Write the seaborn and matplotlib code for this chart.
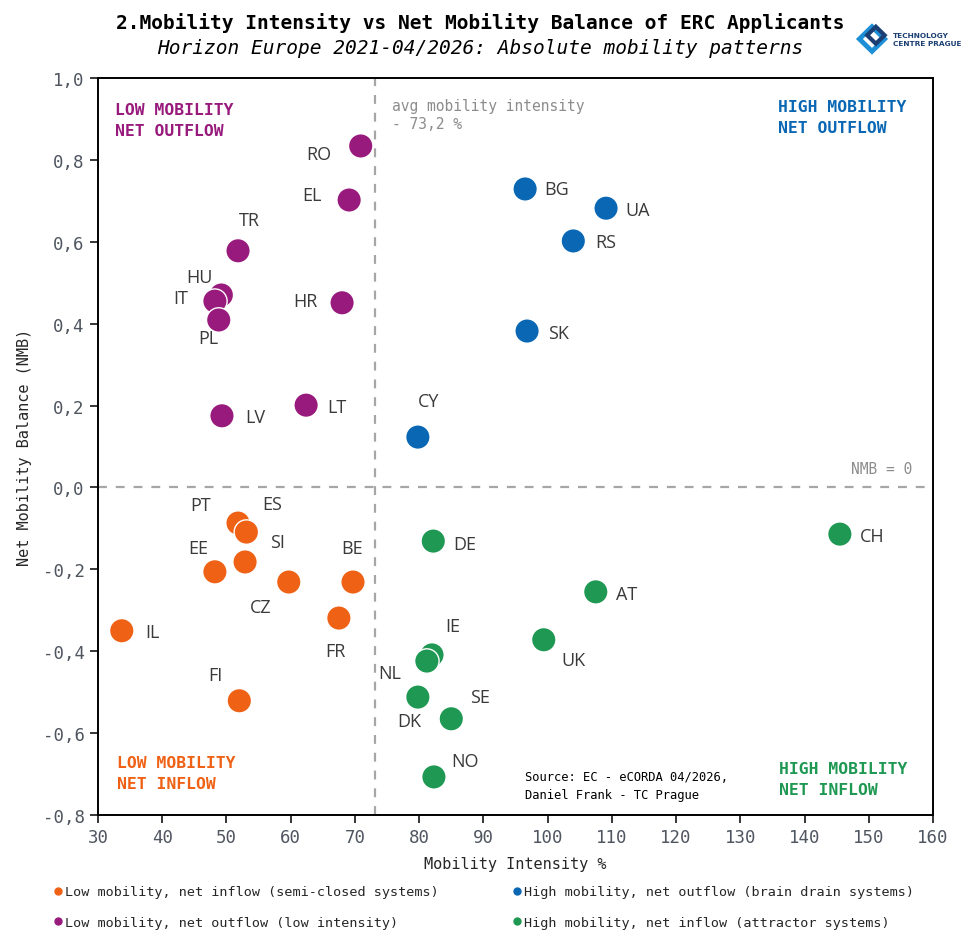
import pandas as pd
import matplotlib.pyplot as plt
import matplotlib.lines as mlines
import matplotlib.patches as mpatches
import seaborn as sns

sns.set_style("ticks")
plt.rcParams["font.family"] = ["DejaVu Sans Mono"]

# data
low_out_codes = ["RO", "EL", "TR", "HU", "IT", "PL", "HR", "LT", "LV"]
low_out_x = [70.9, 69.1, 51.8, 49.2, 48.2, 48.8, 68.0, 62.4, 49.3]
low_out_y = [0.834, 0.702, 0.578, 0.470, 0.455, 0.409, 0.451, 0.201, 0.175]

high_out_codes = ["BG", "UA", "RS", "SK", "CY"]
high_out_x = [96.5, 109.1, 104.0, 96.8, 79.8]
high_out_y = [0.729, 0.682, 0.602, 0.382, 0.123]

low_in_codes = ["PT", "ES", "SI", "EE", "CZ", "BE", "FR", "IL", "FI"]
low_in_x = [51.8, 53.1, 52.9, 48.2, 59.7, 69.7, 67.5, 33.7, 52.0]
low_in_y = [-0.087, -0.109, -0.182, -0.206, -0.231, -0.231, -0.319, -0.350, -0.521]

high_in_codes = ["CH", "DE", "AT", "UK", "IE", "NL", "DK", "SE", "NO"]
high_in_x = [145.5, 82.2, 107.5, 99.4, 82.0, 81.2, 79.8, 85.0, 82.3]
high_in_y = [-0.114, -0.131, -0.255, -0.372, -0.409, -0.424, -0.512, -0.565, -0.707]

avg_intensity = 73.2

groups = [
    "Low mobility, net inflow (semi-closed systems)",
    "Low mobility, net outflow (low intensity)",
    "High mobility, net outflow (brain drain systems)",
    "High mobility, net inflow (attractor systems)",
]
colors = {
    groups[0]: "#ef6115",
    groups[1]: "#981a7c",
    groups[2]: "#0a67b4",
    groups[3]: "#1e9852",
}

# label offsets in pixels (dx, dy up)
offsets = {
    "RO": (-42, -8), "EL": (-37, 5), "TR": (11, 31), "HU": (-22, 18), "IT": (-34, 3),
    "PL": (-10, -18), "HR": (-37, 2), "LT": (31, -2), "LV": (33, -1),
    "BG": (31, 0), "UA": (32, -2), "RS": (32, -1), "SK": (31, -2), "CY": (11, 36),
    "PT": (-37, 18), "ES": (26, 28), "SI": (32, 20), "EE": (-17, 24), "CZ": (-28, -25),
    "BE": (-1, 34), "FR": (-3, -33), "IL": (31, -1), "FI": (-24, 26),
    "CH": (32, -2), "DE": (31, -3), "AT": (31, -2), "UK": (30, -20), "IE": (21, 29),
    "NL": (-37, -12), "DK": (-9, -24), "SE": (29, 22), "NO": (31, 16),
}

frames = []
for g, codes, xs, ys in [
    (groups[1], low_out_codes, low_out_x, low_out_y),
    (groups[2], high_out_codes, high_out_x, high_out_y),
    (groups[0], low_in_codes, low_in_x, low_in_y),
    (groups[3], high_in_codes, high_in_x, high_in_y),
]:
    frames.append(pd.DataFrame({"code": codes, "x": xs, "y": ys, "group": g}))
df = pd.concat(frames, ignore_index=True)

fig = plt.figure(figsize=(9.69, 9.45), dpi=100)
ax = fig.add_axes([98 / 969, 1 - 816 / 945, 835 / 969, 737 / 945])

ax.axvline(avg_intensity, color="#a6a6a6", linestyle=(0, (4, 4)), linewidth=1.6, zorder=1)
ax.axhline(0, color="#a6a6a6", linestyle=(0, (4, 4)), linewidth=1.6, zorder=1)

sns.scatterplot(data=df, x="x", y="y", hue="group", palette=colors, s=310,
                edgecolor="white", linewidth=1.0, legend=False, ax=ax, zorder=3)

for _, r in df.iterrows():
    dx, dy = offsets[r["code"]]
    ax.annotate(r["code"], (r["x"], r["y"]), xytext=(dx, dy), textcoords="offset pixels",
                ha="center", va="center", fontsize=13, color="#3a3a3a",
                family="Open Sans", zorder=4)

ax.set_xlim(30, 160)
ax.set_ylim(-0.8, 1.0)
ax.set_xticks(range(30, 161, 10))
yt = [-0.8 + 0.2 * i for i in range(10)]
ax.set_yticks(yt)
ax.set_yticklabels([f"{v:.1f}".replace(".", ",").replace("-0,0", "0,0") for v in yt])
ax.tick_params(labelsize=12.5, labelcolor="#4f5660", length=6, width=1.3, direction="out")
for sp in ax.spines.values():
    sp.set_visible(True)
    sp.set_linewidth(1.4)
    sp.set_color("black")

ax.set_xlabel("Mobility Intensity %", fontsize=11, labelpad=7)
ax.set_ylabel("Net Mobility Balance (NMB)", fontsize=11, labelpad=8)

# quadrant labels
qkw = dict(fontsize=11.8, fontweight="bold", linespacing=1.5, transform=ax.transAxes, ha="left")
ax.text(0.020, 0.968, "LOW MOBILITY\nNET OUTFLOW", va="top", color=colors[groups[1]], **qkw)
ax.text(0.814, 0.971, "HIGH MOBILITY\nNET OUTFLOW", va="top", color=colors[groups[2]], **qkw)
ax.text(0.023, 0.032, "LOW MOBILITY\nNET INFLOW", va="bottom", color=colors[groups[0]], **qkw)
ax.text(0.816, 0.024, "HIGH MOBILITY\nNET INFLOW", va="bottom", color=colors[groups[3]], **qkw)

ax.text(avg_intensity + 2.6, 0.95, "avg mobility intensity\n- 73,2 %", ha="left", va="top",
        fontsize=10.5, color="#8c8c8c", linespacing=1.25)
ax.text(156.8, 0.047, "NMB = 0", ha="right", va="center", fontsize=10.5, color="#8c8c8c")
ax.text(0.511, 0.061, "Source: EC - eCORDA 04/2026,\nDaniel Frank - TC Prague", transform=ax.transAxes,
        ha="left", va="top", fontsize=8.7, color="black", linespacing=1.5)

fig.text(0.496, 0.976, "2.Mobility Intensity vs Net Mobility Balance of ERC Applicants",
         ha="center", va="center", fontsize=14, fontweight="bold", color="black")
fig.text(0.496, 0.949, "Horizon Europe 2021-04/2026: Absolute mobility patterns",
         ha="center", va="center", fontsize=14, style="italic", color="black")

# logo
lx, ly = 872 / 969, 1 - 40 / 945
fig.patches.append(mpatches.RegularPolygon((lx, ly), 4, radius=0.013, orientation=0,
                                           transform=fig.transFigure, facecolor="none",
                                           edgecolor="#1d8fd6", linewidth=3.5))
fig.patches.append(mpatches.RegularPolygon((lx + 0.004, ly + 0.004), 4, radius=0.009, orientation=0,
                                           transform=fig.transFigure, facecolor="none",
                                           edgecolor="#1b3f73", linewidth=3))
fig.text(893 / 969, ly, "TECHNOLOGY\nCENTRE PRAGUE", ha="left", va="center", fontsize=5.3,
         fontweight="bold", color="#1b3f73", family="DejaVu Sans", linespacing=1.4)

handles = [mlines.Line2D([], [], marker="o", linestyle="", markersize=5,
                         markerfacecolor=colors[g], markeredgecolor=colors[g], label=g)
           for g in groups]
fig.legend(handles=handles, loc="upper left", bbox_to_anchor=(0.052, 1 - 881 / 945), ncol=2,
           frameon=False, fontsize=9.7, handlelength=0.4, handletextpad=0.3,
           columnspacing=5.6, labelspacing=1.3, borderaxespad=0)

fig.savefig("out.png", dpi=100)
